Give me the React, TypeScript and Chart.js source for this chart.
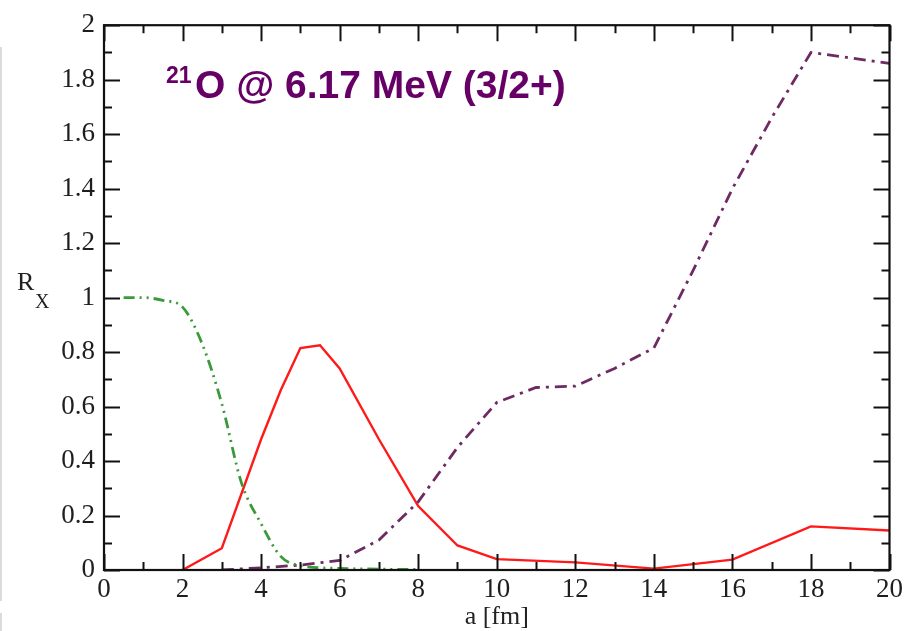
import React, { useEffect, useRef } from "react";
import { Chart, registerables } from "chart.js";

Chart.register(...registerables);

// Ratio R_X versus matching radius a [fm]
const redA = [2, 3, 4, 4.5, 5, 5.5, 6, 7, 8, 9, 10, 12, 14, 16, 18, 20];
const redR = [0, 0.08, 0.48, 0.66, 0.815, 0.825, 0.74, 0.48, 0.235, 0.09, 0.04, 0.028, 0.005, 0.038, 0.16, 0.145];

const greenA = [0.5, 1, 1.5, 2, 2.5, 3, 3.5, 4, 4.5, 5, 6, 7, 8];
const greenR = [1.0, 1.0, 0.99, 0.965, 0.83, 0.61, 0.32, 0.17, 0.05, 0.016, 0.006, 0.003, 0.002];

const purpleA = [3, 4, 5, 6, 7, 8, 9, 10, 11, 12, 13, 14, 15, 16, 17, 18, 20];
const purpleR = [0, 0.008, 0.018, 0.035, 0.11, 0.25, 0.45, 0.615, 0.67, 0.675, 0.74, 0.815, 1.1, 1.4, 1.66, 1.9, 1.86];

const xMajorTicks = [0, 2, 4, 6, 8, 10, 12, 14, 16, 18, 20];
const yTickLabels = ["0", "0.2", "0.4", "0.6", "0.8", "1", "1.2", "1.4", "1.6", "1.8", "2"];

const toPoints = (xs: number[], ys: number[]) => xs.map((x, i) => ({ x, y: ys[i] }));

const SERIF = '"Liberation Serif", "DejaVu Serif", serif';
const SANS = '"Liberation Sans", Arial, sans-serif';

const framePlugin = {
  id: "frameAndTicks",
  afterDraw(chart: any) {
    const { ctx, chartArea, scales } = chart;
    const xs = scales.x;
    const ys = scales.y;
    const { left, right, top, bottom } = chartArea;
    ctx.save();

    // slide edge line on the far left
    ctx.strokeStyle = "#cfcfcf";
    ctx.lineWidth = 1.5;
    ctx.beginPath();
    ctx.moveTo(1, 47);
    ctx.lineTo(1, 601);
    ctx.moveTo(1, 613);
    ctx.lineTo(1, 631);
    ctx.stroke();

    // frame
    ctx.strokeStyle = "#111";
    ctx.lineWidth = 2.2;
    ctx.strokeRect(left, top, right - left, bottom - top);

    const major = 16;
    const minor = 8;
    ctx.lineWidth = 2;
    ctx.beginPath();
    for (let v = 0; v <= 20; v += 1) {
      const px = Math.round(xs.getPixelForValue(v)) + 0.5;
      const len = v % 2 === 0 ? major : minor;
      ctx.moveTo(px, bottom);
      ctx.lineTo(px, bottom - len);
      ctx.moveTo(px, top);
      ctx.lineTo(px, top + len);
    }
    for (let k = 0; k <= 20; k += 1) {
      const py = Math.round(ys.getPixelForValue(k / 10)) + 0.5;
      const len = k % 2 === 0 ? major : minor;
      ctx.moveTo(left, py);
      ctx.lineTo(left + len, py);
      ctx.moveTo(right, py);
      ctx.lineTo(right - len, py);
    }
    ctx.stroke();

    // axis titles
    ctx.fillStyle = "#222";
    ctx.textBaseline = "alphabetic";
    ctx.textAlign = "left";
    ctx.font = `26px ${SERIF}`;
    ctx.fillText("R", 17, 290);
    ctx.font = `20px ${SERIF}`;
    ctx.fillText("X", 35, 308);

    ctx.textAlign = "center";
    ctx.font = `26px ${SERIF}`;
    ctx.fillText("a [fm]", (left + right) / 2, 624);

    // annotation
    ctx.textAlign = "left";
    ctx.fillStyle = "#660066";
    ctx.font = `bold 23px ${SANS}`;
    ctx.fillText("21", 166, 83);
    ctx.font = `bold 39px ${SANS}`;
    ctx.fillText("O @ 6.17 MeV (3/2+)", 195, 98);

    ctx.restore();
  },
};

export default function App() {
  const canvasRef = useRef<HTMLCanvasElement | null>(null);

  useEffect(() => {
    const canvas = canvasRef.current;
    if (!canvas) return;
    const chart = new Chart(canvas, {
      type: "line",
      data: {
        datasets: [
          {
            label: "green",
            data: toPoints(greenA, greenR),
            borderColor: "#3a9a3a",
            borderWidth: 2.8,
            borderDash: [11, 5, 2, 5, 2, 5],
            pointRadius: 0,
            cubicInterpolationMode: "monotone",
            fill: false,
          },
          {
            label: "purple",
            data: toPoints(purpleA, purpleR),
            borderColor: "#6e2a62",
            borderWidth: 2.8,
            borderDash: [12, 6, 3, 6],
            pointRadius: 0,
            tension: 0,
            fill: false,
          },
          {
            label: "red",
            data: toPoints(redA, redR),
            borderColor: "#ff1a1a",
            borderWidth: 2.4,
            pointRadius: 0,
            tension: 0,
            fill: false,
          },
        ],
      },
      options: {
        animation: false,
        responsive: false,
        maintainAspectRatio: false,
        layout: { padding: { top: 18, right: 17, left: 0, bottom: 0 } },
        plugins: {
          legend: { display: false },
          tooltip: { enabled: false },
          title: { display: false },
        },
        scales: {
          x: {
            type: "linear",
            min: 0,
            max: 20,
            grid: { display: false, drawTicks: false },
            border: { display: false },
            ticks: {
              stepSize: 2,
              padding: 4,
              color: "#1e1e1e",
              font: { family: SERIF, size: 27 },
              callback: (v: any) => (xMajorTicks.includes(Number(v)) ? String(v) : ""),
              maxRotation: 0,
              autoSkip: false,
            },
            afterFit: (s: any) => {
              s.height = 61;
            },
          },
          y: {
            type: "linear",
            min: 0,
            max: 2,
            grid: { display: false, drawTicks: false },
            border: { display: false },
            ticks: {
              stepSize: 0.2,
              padding: 9,
              color: "#1e1e1e",
              font: { family: SERIF, size: 27 },
              callback: (v: any) => yTickLabels[Math.round(Number(v) * 5)] ?? "",
              autoSkip: false,
            },
            afterFit: (s: any) => {
              s.width = 104;
            },
          },
        },
      },
      plugins: [framePlugin],
    });
    return () => chart.destroy();
  }, []);

  return (
    <div style={{ position: "fixed", left: 0, top: 0, width: 907, height: 631, background: "#fff" }}>
      <canvas ref={canvasRef} width={907} height={631} style={{ display: "block" }} />
    </div>
  );
}
